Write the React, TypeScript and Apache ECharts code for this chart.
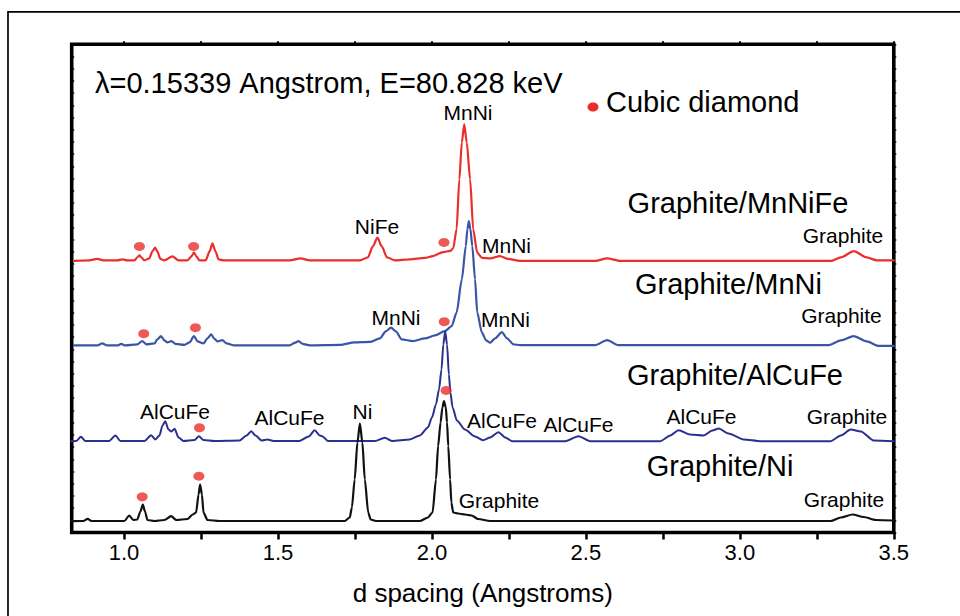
import React, { useEffect, useRef } from "react";
import * as echarts from "echarts";

// d spacing (Angstrom), intensity (offset, arbitrary units)
const mnNiFe: [number, number][] = [
  [0.838,271.5],[0.887,272],[0.913,273.5],[0.933,272],[0.978,272],[0.995,273],[1.011,272],[1.034,272],[1.043,275],[1.050,277],[1.056,275],[1.066,272],[1.082,274],[1.092,281],[1.101,284.7],[1.108,281],[1.118,273.5],[1.131,272],[1.157,276],[1.177,272],[1.206,272],[1.219,276],[1.227,280],[1.235,276],[1.245,272],[1.265,272],[1.278,281],[1.287,289],[1.297,281],[1.307,273],[1.323,272],[1.538,272],[1.573,274],[1.603,272],[1.766,272],[1.792,275],[1.808,286],[1.823,294.7],[1.837,286],[1.854,275],[1.880,272],[1.928,273],[1.977,274.5],[2.003,276.3],[2.036,280.3],[2.059,281.5],[2.069,284],[2.080,303],[2.089,353],[2.097,390],[2.105,408],[2.113,390],[2.124,353],[2.134,303],[2.147,279.7],[2.163,274.5],[2.189,274],[2.221,276.3],[2.247,273.5],[2.286,271.5],[2.530,271.5],[2.569,274],[2.612,271.5],[3.295,271.5],[3.328,275],[3.370,281.3],[3.412,275],[3.445,272],[3.500,272],
];
const mnNi: [number, number][] = [
  [0.838,187],[0.913,187],[0.929,189],[0.946,187],[0.978,187],[0.991,188.5],[1.004,187],[1.043,188],[1.059,191.3],[1.073,188],[1.099,189],[1.108,193],[1.120,196.3],[1.131,192],[1.141,190],[1.154,191.3],[1.167,188.5],[1.196,187.5],[1.213,190],[1.227,196.3],[1.239,191],[1.258,189],[1.271,194],[1.283,198],[1.294,193.5],[1.304,191],[1.319,192.3],[1.333,189],[1.359,187],[1.538,187],[1.554,189.5],[1.567,191.3],[1.580,188.5],[1.603,187],[1.701,187.5],[1.749,190],[1.798,190.5],[1.831,194],[1.850,201],[1.867,204.7],[1.883,201],[1.902,193],[1.938,191.3],[1.977,194],[2.010,197],[2.042,201.3],[2.064,206.3],[2.080,219.7],[2.097,253],[2.110,286.3],[2.115,303],[2.120,311.3],[2.125,303],[2.131,286.3],[2.140,253],[2.147,220],[2.162,200],[2.176,192],[2.189,189.7],[2.205,194],[2.227,200.3],[2.244,194],[2.265,188],[2.286,187.3],[2.530,187.3],[2.569,192.3],[2.605,187.3],[3.289,187.3],[3.328,192],[3.370,196.3],[3.412,191],[3.451,186.5],[3.500,186.5],
];
const alCuFe: [number, number][] = [
  [0.828,91.3],[0.845,91.5],[0.860,95.7],[0.874,91.5],[0.952,91.5],[0.972,97],[0.988,91.5],[1.066,91.5],[1.088,97.3],[1.102,93],[1.115,97],[1.125,107],[1.134,111.3],[1.144,103],[1.154,101],[1.164,103.7],[1.177,95],[1.193,91.5],[1.229,92.5],[1.243,96.3],[1.258,92.5],[1.294,91.5],[1.375,92],[1.398,97],[1.413,101.3],[1.427,97],[1.447,92],[1.466,93],[1.486,91.5],[1.570,91.5],[1.600,96],[1.619,102.3],[1.636,97],[1.645,96],[1.662,91.5],[1.815,91.5],[1.847,94.7],[1.870,91.5],[1.928,93],[1.961,97],[1.987,105],[2.000,115],[2.013,128],[2.023,143],[2.031,163],[2.037,188],[2.043,201],[2.049,188],[2.055,158],[2.060,140],[2.067,125],[2.081,112],[2.107,103],[2.140,96],[2.166,92.3],[2.189,95],[2.216,100.3],[2.238,95],[2.260,91.3],[2.433,91.3],[2.476,96.3],[2.514,91.3],[2.742,91.3],[2.774,97],[2.801,102.3],[2.839,98],[2.882,97],[2.911,102],[2.931,104],[2.963,99],[3.012,93],[3.067,91.3],[3.295,91.3],[3.328,97],[3.360,103],[3.393,101],[3.435,92],[3.500,91.3],
];
const ni: [number, number][] = [
  [0.828,11.3],[0.868,11.5],[0.882,13.7],[0.894,11.5],[1.001,11.5],[1.017,17],[1.030,12.5],[1.043,13],[1.053,21],[1.061,28],[1.068,21],[1.076,12.5],[1.099,11.5],[1.131,12.5],[1.153,16.3],[1.170,12.5],[1.206,13.5],[1.223,18],[1.234,20],[1.242,38],[1.247,48],[1.253,38],[1.258,20],[1.271,12.5],[1.310,11.5],[1.717,11.5],[1.733,15],[1.740,25],[1.749,53],[1.758,90],[1.766,109],[1.774,90],[1.782,53],[1.793,20],[1.801,13],[1.818,11.5],[1.961,11.5],[1.987,15],[2.002,20],[2.013,53],[2.020,86.3],[2.028,110],[2.034,125],[2.039,131.3],[2.045,125],[2.049,110],[2.053,86.3],[2.059,53],[2.063,30],[2.069,20],[2.085,19],[2.107,18],[2.129,17],[2.150,13.5],[2.189,11.5],[3.295,11.5],[3.328,15],[3.366,18],[3.402,15.5],[3.442,12.5],[3.500,12],
];

// cubic diamond reflections marked on each pattern
const diamondMnNiFe: [number, number][] = [[1.050,286],[1.226,286],[2.039,290]];
const diamondMnNi: [number, number][] = [[1.064,198.7],[1.232,204.7],[2.040,210.7]];
const diamondAlCuFe: [number, number][] = [[1.245,104.7],[2.046,142]];
const diamondNi: [number, number][] = [[1.059,35.7],[1.243,56.3]];

const xLabelValues = [1.0, 1.5, 2.0, 2.5, 3.0, 3.5];
const X_MIN = 0.83;
const X_MAX = 3.5;
const TICK_START = 1.0;
const TICK_STEP = 0.25;

const Y_MAX = 488;
const FONT = "'Liberation Sans', Arial, Helvetica, sans-serif";
const RED = "#ea2f2b";
const BLUE = "#3a55a6";
const NAVY = "#2c2f8e";
const BLACK = "#111111";

const annotations: { t: string; x: number; y: number; s: number }[] = [
  { t: "MnNi", x: 468, y: 112.5, s: 21 },
  { t: "NiFe", x: 377, y: 226, s: 21 },
  { t: "MnNi", x: 506.5, y: 245.5, s: 21 },
  { t: "MnNi", x: 396, y: 317.5, s: 21 },
  { t: "MnNi", x: 505.5, y: 319.5, s: 21 },
  { t: "AlCuFe", x: 175, y: 411, s: 21 },
  { t: "AlCuFe", x: 289.5, y: 417.5, s: 21 },
  { t: "Ni", x: 362.5, y: 411, s: 21 },
  { t: "AlCuFe", x: 502, y: 420, s: 21 },
  { t: "AlCuFe", x: 578.5, y: 424, s: 21 },
  { t: "AlCuFe", x: 701.5, y: 416.5, s: 21 },
  { t: "Graphite", x: 843, y: 235, s: 21 },
  { t: "Graphite", x: 841.5, y: 315, s: 21 },
  { t: "Graphite", x: 847, y: 416.5, s: 21 },
  { t: "Graphite", x: 499, y: 500, s: 21 },
  { t: "Graphite", x: 844, y: 499, s: 21 },
  { t: "Graphite/MnNiFe", x: 738, y: 203, s: 29 },
  { t: "Graphite/MnNi", x: 728.5, y: 284, s: 29 },
  { t: "Graphite/AlCuFe", x: 735, y: 375, s: 29 },
  { t: "Graphite/Ni", x: 720, y: 465.5, s: 29 },
];

export default function App() {
  const ref = useRef<HTMLDivElement>(null);
  useEffect(() => {
    if (!ref.current) return;
    const chart = echarts.init(ref.current, undefined, { renderer: "svg" });
    const lineSeries = (name: string, data: [number, number][], color: string, w: number) => ({
      type: "line",
      name,
      data,
      showSymbol: false,
      symbol: "none",
      smooth: 0.25,
      smoothMonotone: "x",
      lineStyle: { color, width: w, join: "round", cap: "round" },
      z: 3,
    });
    const textStyle = (t: string, s: number, align: string) => ({
      text: t,
      fontSize: s,
      fontFamily: FONT,
      fill: "#000",
      textAlign: align,
      textVerticalAlign: "middle",
      align,
      verticalAlign: "middle",
    });
    const textEls: any[] = annotations.map((a) => ({
      type: "text",
      x: a.x,
      y: a.y,
      z: 10,
      style: textStyle(a.t, a.s, "center"),
    }));

    const gLeft = 71.7;
    const gRight = 66.2;
    const gTop = 44.3;
    const gBottom = 83.5;
    const plotW = 960 - gLeft - gRight;
    // second grid for the major ticks, starting at d = 1.0 so ticks count from a multiple of the interval
    const tickGridLeft = gLeft + ((TICK_START - X_MIN) / (X_MAX - X_MIN)) * plotW;

    chart.setOption({
      animation: false,
      backgroundColor: "#ffffff",
      grid: [
        {
          left: gLeft,
          top: gTop,
          right: gRight,
          bottom: gBottom,
          show: true,
          borderColor: "#000",
          borderWidth: 3.6,
          backgroundColor: "transparent",
        },
        { left: tickGridLeft, top: gTop, right: gRight, bottom: gBottom, show: false },
      ],
      xAxis: [
        {
          type: "value",
          gridIndex: 0,
          position: "bottom",
          min: X_MIN,
          max: X_MAX,
          axisLine: { show: false },
          splitLine: { show: false },
          axisTick: { show: false },
          axisLabel: {
            customValues: xLabelValues,
            formatter: (v: number) => v.toFixed(1),
            fontSize: 22,
            fontFamily: FONT,
            color: "#000",
            margin: 9,
          },
          name: "d spacing (Angstroms)",
          nameLocation: "middle",
          nameGap: 47,
          nameTextStyle: { fontSize: 26, fontFamily: FONT, color: "#000" },
        },
        {
          type: "value",
          gridIndex: 1,
          position: "bottom",
          min: TICK_START,
          max: X_MAX,
          interval: TICK_STEP,
          axisLine: { show: false },
          splitLine: { show: false },
          axisLabel: { show: false },
          axisTick: { show: true, inside: false, length: 7, lineStyle: { color: "#000", width: 2.5 } },
        },
        {
          type: "value",
          gridIndex: 1,
          position: "top",
          min: TICK_START,
          max: X_MAX,
          interval: TICK_STEP,
          axisLine: { show: false },
          splitLine: { show: false },
          axisLabel: { show: false },
          axisTick: { show: true, inside: false, length: 3, lineStyle: { color: "#000", width: 2 } },
        },
      ],
      yAxis: [
        {
          type: "value",
          gridIndex: 0,
          position: "left",
          min: 0,
          max: Y_MAX,
          interval: 12.2,
          axisLine: { show: false },
          splitLine: { show: false },
          axisTick: { show: true, inside: true, length: 2.5, lineStyle: { color: "#000", width: 1.5 } },
          axisLabel: { show: false },
        },
        {
          type: "value",
          gridIndex: 0,
          position: "right",
          min: 0,
          max: Y_MAX,
          interval: 12.2,
          axisLine: { show: false },
          splitLine: { show: false },
          axisTick: { show: true, inside: false, length: 2.5, lineStyle: { color: "#000", width: 1.5 } },
          axisLabel: { show: false },
        },
        {
          type: "value",
          gridIndex: 1,
          min: 0,
          max: 1,
          show: false,
        },
      ],
      series: [
        lineSeries("Graphite/MnNiFe", mnNiFe, RED, 2.2),
        lineSeries("Graphite/MnNi", mnNi, BLUE, 2.2),
        lineSeries("Graphite/AlCuFe", alCuFe, NAVY, 2),
        lineSeries("Graphite/Ni", ni, BLACK, 2.2),
        {
          type: "scatter",
          name: "Cubic diamond",
          data: [...diamondMnNiFe, ...diamondMnNi, ...diamondAlCuFe, ...diamondNi],
          symbol: "circle",
          symbolSize: [11, 9],
          itemStyle: { color: RED },
          z: 5,
        },
        {
          type: "line",
          name: "ticks",
          xAxisIndex: 1,
          yAxisIndex: 2,
          data: [],
          silent: true,
        },
      ],
      graphic: [
        {
          type: "rect",
          shape: { x: 8, y: 11.8, width: 1000, height: 700 },
          style: { fill: "none", stroke: "#000", lineWidth: 1.7 },
          silent: true,
        },
        { type: "text", x: 95, y: 83, style: textStyle("λ=0.15339 Angstrom, E=80.828 keV", 29, "left") },
        { type: "ellipse", shape: { cx: 593, cy: 107, rx: 5.5, ry: 4.5 }, style: { fill: RED } },
        { type: "text", x: 606, y: 102, style: textStyle("Cubic diamond", 29, "left") },
        ...textEls,
      ],
    });
    return () => chart.dispose();
  }, []);
  return (
    <div
      ref={ref}
      style={{ position: "fixed", left: 0, top: 0, width: 960, height: 616, background: "#fff" }}
    />
  );
}
